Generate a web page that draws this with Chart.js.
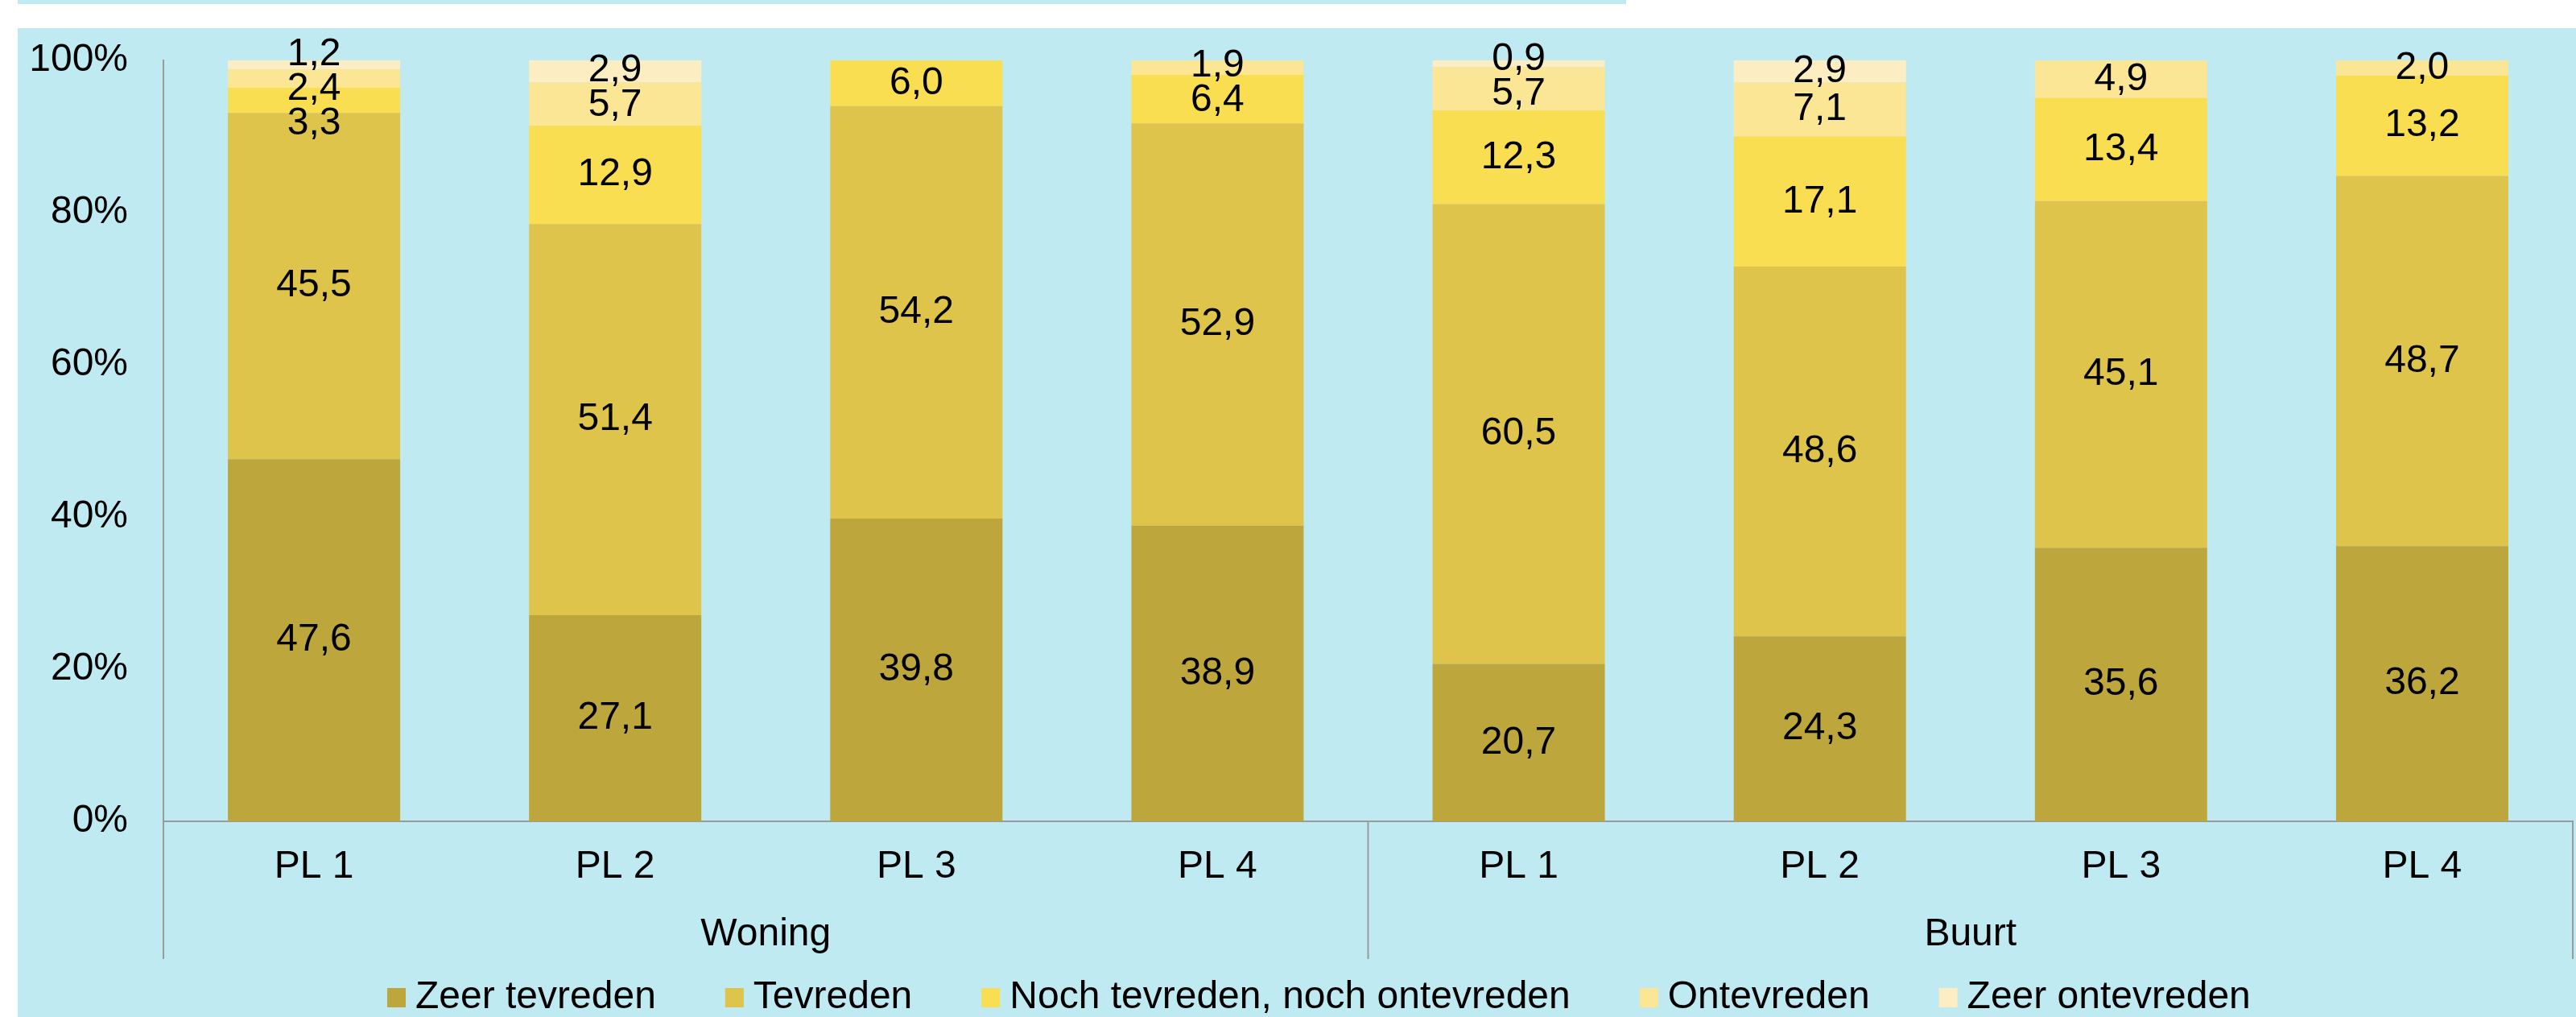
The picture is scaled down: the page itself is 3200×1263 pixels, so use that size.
<!DOCTYPE html>
<html lang="nl">
<head>
<meta charset="utf-8">
<title>Tevredenheid woning en buurt</title>
<script src="https://cdn.jsdelivr.net/npm/chart.js@4.4.1/dist/chart.umd.min.js"></script>
<style>
    html, body { margin: 0; padding: 0; background: #ffffff; width: 3200px; height: 1263px; overflow: hidden; }
    #strook { position: absolute; left: 22px; top: 0; width: 1998px; height: 5px; background: #BFEAF2; }
    #kader { position: absolute; left: 22px; top: 35px; width: 3178px; height: 1228px; background: #BFEAF2; }
    #kader canvas { display: block; }
</style>
</head>
<body>
<div id="strook"></div>
<div id="kader"><canvas id="tevredenheidChart" width="3178" height="1228"></canvas></div>

<script>
/* ====================================================
   TEVREDENHEID WONING EN BUURT (100% GESTAPELD)
   ==================================================== */

const groepen      = ['Woning', 'Buurt'];
const categorieen  = ['PL 1', 'PL 2', 'PL 3', 'PL 4', 'PL 1', 'PL 2', 'PL 3', 'PL 4'];

const zeerTevreden   = [47.6, 27.1, 39.8, 38.9, 20.7, 24.3, 35.6, 36.2];
const tevreden       = [45.5, 51.4, 54.2, 52.9, 60.5, 48.6, 45.1, 48.7];
const nochNoch       = [3.3, 12.9, 6.0, 6.4, 12.3, 17.1, 13.4, 13.2];
const ontevreden     = [2.4, 5.7, 0, 1.9, 5.7, 7.1, 4.9, 2.0];
const zeerOntevreden = [1.2, 2.9, 0, 0, 0.9, 2.9, 0, 0];

const reeksNamen = ['Zeer tevreden', 'Tevreden', 'Noch tevreden, noch ontevreden', 'Ontevreden', 'Zeer ontevreden'];
const reeksData  = [zeerTevreden, tevreden, nochNoch, ontevreden, zeerOntevreden];
const kleuren    = ['#BDA73D', '#DEC44A', '#F9DE52', '#FAE694', '#FCEEC2'];

const yTicks = [0, 20, 40, 60, 80, 100];

const LETTER     = "'Liberation Sans', Arial, sans-serif";
const GROOTTE    = 48;
const AS_KLEUR   = '#9A9A9A';
const AS_HOOGTE  = 171;   // ruimte onder de as voor PL- en groepslabels

// 100% gestapeld: elke kolom wordt naar 100 geschaald (zoals Excel)
const totalen = categorieen.map((c, i) => reeksData.reduce((s, reeks) => s + reeks[i], 0));
const aandelen = reeksData.map(reeks => reeks.map((v, i) => v / totalen[i] * 100));

// Labels die elkaar overlappen iets uit elkaar duwen
function spreidLabels(items, afstand, minY) {
    let clusters = items.map(it => ({ leden: [it], midden: it.y }));
    let gewijzigd = true;
    while (gewijzigd) {
        gewijzigd = false;
        for (let i = 0; i < clusters.length - 1; i++) {
            const a = clusters[i], b = clusters[i + 1];
            const aEind  = a.midden + (a.leden.length - 1) * afstand / 2;
            const bBegin = b.midden - (b.leden.length - 1) * afstand / 2;
            if (bBegin - aEind < afstand) {
                const leden = a.leden.concat(b.leden);
                const midden = leden.reduce((s, l) => s + l.y, 0) / leden.length;
                clusters.splice(i, 2, { leden, midden });
                gewijzigd = true;
                break;
            }
        }
    }
    clusters.forEach(c => c.leden.forEach((l, k) => {
        l.yLabel = c.midden + (k - (c.leden.length - 1) / 2) * afstand;
    }));

    // niet te ver boven de kolom uitsteken; zo nodig naar beneden schuiven
    if (items.length && items[0].yLabel < minY) {
        let vorige = minY - afstand;
        items.forEach(it => {
            if (it.yLabel < vorige + afstand) it.yLabel = vorige + afstand;
            vorige = it.yLabel;
        });
    }
}

const tekenExtra = {
    id: 'tekenExtra',
    afterDatasetsDraw(chart) {
        const ctx = chart.ctx;
        const ca = chart.chartArea;
        const x = chart.scales.x;

        ctx.save();

        // Verticale scheidingslijnen onder de x-as
        ctx.strokeStyle = AS_KLEUR;
        ctx.lineWidth = 2;
        const midden = (x.getPixelForValue(3) + x.getPixelForValue(4)) / 2;
        [ca.left, midden, ca.right].forEach(px => {
            ctx.beginPath();
            ctx.moveTo(px, ca.bottom);
            ctx.lineTo(px, ca.bottom + AS_HOOGTE);
            ctx.stroke();
        });

        ctx.fillStyle = '#000000';
        ctx.font = `${GROOTTE}px ${LETTER}`;
        ctx.textAlign = 'center';
        ctx.textBaseline = 'middle';

        // PL-labels en groepslabels
        categorieen.forEach((c, i) => {
            ctx.fillText(c, x.getPixelForValue(i), ca.bottom + 57);
        });
        groepen.forEach((g, gi) => {
            const px = (x.getPixelForValue(gi * 4 + 1) + x.getPixelForValue(gi * 4 + 2)) / 2;
            ctx.fillText(g, px, ca.bottom + 141);
        });

        // Datalabels in het midden van elk segment
        categorieen.forEach((c, i) => {
            const items = [];
            reeksData.forEach((reeks, r) => {
                const waarde = reeks[i];
                if (!waarde) return;
                const el = chart.getDatasetMeta(r).data[i];
                items.push({ y: (el.y + el.base) / 2, tekst: waarde.toFixed(1).replace('.', ','), px: el.x });
            });
            items.sort((a, b) => a.y - b.y);
            spreidLabels(items, 43, ca.top - 7);
            items.forEach(it => ctx.fillText(it.tekst, it.px, it.yLabel));
        });

        // Legenda onderaan
        ctx.textAlign = 'left';
        let lx = 459;
        const ly = chart.height - 24;
        reeksNamen.forEach((naam, r) => {
            ctx.fillStyle = kleuren[r];
            ctx.fillRect(lx, ly - 12, 23, 24);
            ctx.fillStyle = '#000000';
            ctx.fillText(naam, lx + 35, ly);
            lx += 35 + ctx.measureText(naam).width + 86;
        });

        ctx.restore();
    }
};

const ctx = document.getElementById('tevredenheidChart').getContext('2d');
window.tevredenheidChart = new Chart(ctx, {
    type: 'bar',
    data: {
        labels: categorieen,
        datasets: reeksNamen.map((naam, r) => ({
            label: naam,
            data: aandelen[r],
            backgroundColor: kleuren[r],
            borderWidth: 0,
            categoryPercentage: 1,
            barPercentage: 0.572
        }))
    },
    options: {
        responsive: false,
        animation: false,
        devicePixelRatio: 1,
        layout: { padding: { top: 40, right: 4, bottom: 72, left: 0 } },
        plugins: {
            legend: { display: false },
            tooltip: { enabled: false }
        },
        scales: {
            x: {
                stacked: true,
                grid: { display: false, drawTicks: false },
                border: { display: true, color: AS_KLEUR, width: 2 },
                ticks: { display: false },
                afterFit(scale) { scale.height = AS_HOOGTE; }
            },
            y: {
                stacked: true,
                min: 0,
                max: 100,
                afterBuildTicks(scale) { scale.ticks = yTicks.map(v => ({ value: v })); },
                grid: { display: false, drawTicks: false },
                border: { display: true, color: AS_KLEUR, width: 2 },
                ticks: {
                    padding: 44,
                    color: '#000000',
                    font: { family: LETTER, size: GROOTTE },
                    callback: v => v + '%'
                },
                afterFit(scale) {
                    scale.width = 181;
                    scale.paddingTop = 0;
                    scale.paddingBottom = 0;
                }
            }
        }
    },
    plugins: [tekenExtra]
});
</script>
</body>
</html>
